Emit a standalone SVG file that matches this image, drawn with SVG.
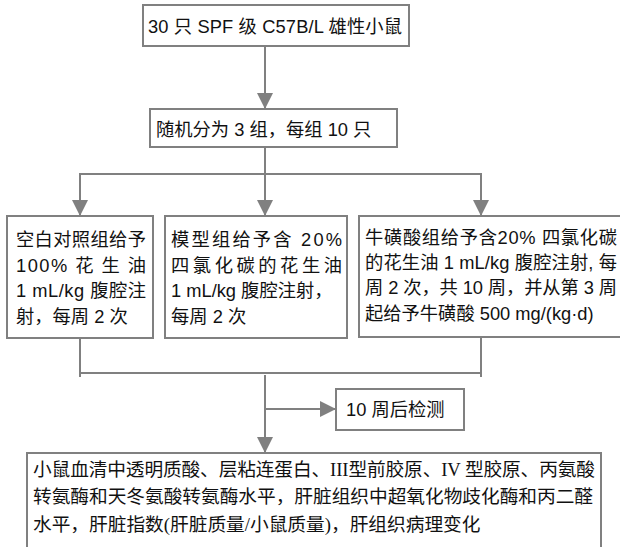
<svg xmlns="http://www.w3.org/2000/svg" width="620" height="547" viewBox="0 0 620 547">
<style>
.box{fill:#fff;stroke:#808080;stroke-width:2}
.ln{fill:none;stroke:#808080;stroke-width:2}
.t{font-family:"Liberation Sans","Noto Sans CJK SC",sans-serif;font-size:18.3px;fill:#111}
.s{font-family:"Liberation Serif","Noto Sans CJK SC",serif;font-size:18.7px;fill:#111}
</style>
<defs>
<marker id="ah" markerUnits="userSpaceOnUse" markerWidth="16" markerHeight="16" refX="16" refY="8" orient="auto">
<path d="M0,0 L16,8 L0,16 z" fill="#808080"/>
</marker>
</defs>
<g id="connectors">
<line class="ln" x1="265" y1="46" x2="265" y2="109" marker-end="url(#ah)"/>
<line class="ln" x1="265" y1="147" x2="265" y2="216" marker-end="url(#ah)"/>
<line class="ln" x1="80" y1="174" x2="481" y2="174"/>
<line class="ln" x1="80" y1="173" x2="80" y2="216" marker-end="url(#ah)"/>
<line class="ln" x1="481" y1="173" x2="481" y2="216" marker-end="url(#ah)"/>
<line class="ln" x1="80" y1="338" x2="80" y2="377"/>
<line class="ln" x1="481" y1="338" x2="481" y2="377"/>
<line class="ln" x1="80" y1="373" x2="481" y2="373"/>
<line class="ln" x1="265" y1="375" x2="265" y2="453" marker-end="url(#ah)"/>
<line class="ln" x1="266" y1="409" x2="336" y2="409" marker-end="url(#ah)"/>
</g>
<g id="n1">
<rect class="box" x="143" y="5" width="266" height="41"/>
<text class="t" x="148" y="33" textLength="254" lengthAdjust="spacing">30 只 SPF 级 C57B/L 雄性小鼠</text>
</g>
<g id="n2">
<rect class="box" x="150" y="109" width="247" height="38"/>
<text class="t" x="156" y="136">随机分为 3 组，每组 10 只</text>
</g>
<g id="nA">
<rect class="box" x="7" y="216" width="146" height="122"/>
<text class="t" x="16" y="246" textLength="130" lengthAdjust="spacing">空白对照组给予</text>
<text class="t" x="16" y="272" textLength="130" lengthAdjust="spacing">100% 花 生 油</text>
<text class="t" x="16" y="297" textLength="130" lengthAdjust="spacing">1 mL/kg 腹腔注</text>
<text class="t" x="16" y="323">射，每周 2 次</text>
</g>
<g id="nB">
<rect class="box" x="165" y="216" width="182" height="122"/>
<text class="t" x="171" y="246" textLength="171" lengthAdjust="spacing">模型组给予含 20%</text>
<text class="t" x="171" y="272" textLength="171" lengthAdjust="spacing">四氯化碳的花生油</text>
<text class="t" x="171" y="297">1 mL/kg 腹腔注射，</text>
<text class="t" x="171" y="323">每周 2 次</text>
</g>
<g id="nC">
<rect class="box" x="359" y="216" width="264" height="121"/>
<text class="t" x="365" y="244" textLength="252" lengthAdjust="spacing">牛磺酸组给予含20% 四氯化碳</text>
<text class="t" x="365" y="269" textLength="252" lengthAdjust="spacing">的花生油 1 mL/kg 腹腔注射, 每</text>
<text class="t" x="365" y="294" textLength="252" lengthAdjust="spacing">周 2 次，共 10 周，并从第 3 周</text>
<text class="t" x="365" y="320">起给予牛磺酸 500 mg/(kg·d)</text>
</g>
<g id="n3">
<rect class="box" x="336" y="389" width="128" height="41"/>
<text class="t" x="346" y="416">10 周后检测</text>
</g>
<g id="n4">
<rect class="box" x="27" y="453" width="574" height="110"/>
<text class="s" x="33" y="476" textLength="562" lengthAdjust="spacing">小鼠血清中透明质酸、层粘连蛋白、III型前胶原、IV 型胶原、丙氨酸</text>
<text class="s" x="33" y="503" textLength="560" lengthAdjust="spacing">转氨酶和天冬氨酸转氨酶水平，肝脏组织中超氧化物歧化酶和丙二醛</text>
<text class="s" x="33" y="531">水平，肝脏指数(肝脏质量/小鼠质量)，肝组织病理变化</text>
</g>
</svg>
